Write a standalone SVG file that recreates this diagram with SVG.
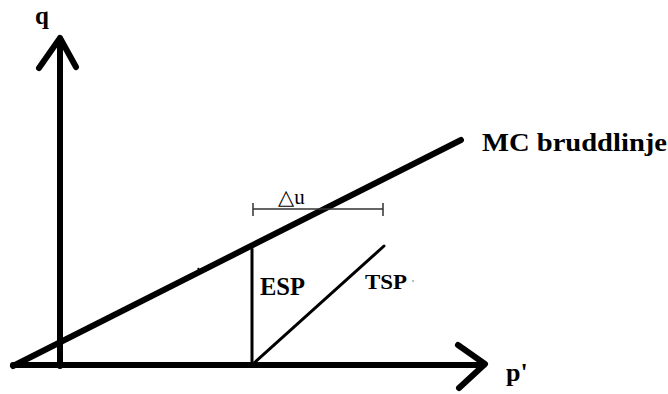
<svg xmlns="http://www.w3.org/2000/svg" width="668" height="394" viewBox="0 0 668 394">
<style>
.ax{stroke:#000;stroke-width:6;fill:none;stroke-linecap:round;stroke-linejoin:round}
.thin{stroke:#000;stroke-width:3;fill:none;stroke-linecap:round}
.dim{stroke:#333;stroke-width:1.5;fill:none}
.lbl{font-family:"Liberation Serif","Times New Roman",serif;font-weight:bold;fill:#000}
.reg{font-family:"Liberation Serif","DejaVu Serif",serif;fill:#000}
</style>
<rect width="668" height="394" fill="#fff"/>
<g id="connectors">
<path class="ax" d="M60,366 V38 M39,68 L60,38 L76,67"/>
<path class="ax" d="M13,365 H484 M458,345 L485,364 L459,388"/>
<path class="ax" d="M13,366 L461,140"/>
<path class="thin" d="M252,249 V364"/>
<path class="thin" d="M253,364 L384,246"/>
<path class="dim" d="M253,209 H383 M253,203 V216 M383,203 V216"/>
<path d="M198,268 l2,4" stroke="#000" stroke-width="2"/>
</g>
<g id="q"><text class="lbl" x="35" y="24" font-size="25">q</text></g>
<g id="mc"><text class="lbl" x="482" y="151" font-size="25" textLength="185" lengthAdjust="spacingAndGlyphs">MC bruddlinje</text></g>
<g id="du"><text class="reg" x="278" y="204" font-size="21">△u</text></g>
<g id="esp"><text class="lbl" x="260" y="295" font-size="25" textLength="45" lengthAdjust="spacingAndGlyphs">ESP</text></g>
<g id="tsp"><text class="lbl" x="365" y="289" font-size="22" textLength="42" lengthAdjust="spacingAndGlyphs">TSP</text><circle cx="413" cy="281" r="0.8" fill="#666"/></g>
<g id="p"><text class="lbl" x="506" y="381" font-size="26">p'</text></g>
</svg>
